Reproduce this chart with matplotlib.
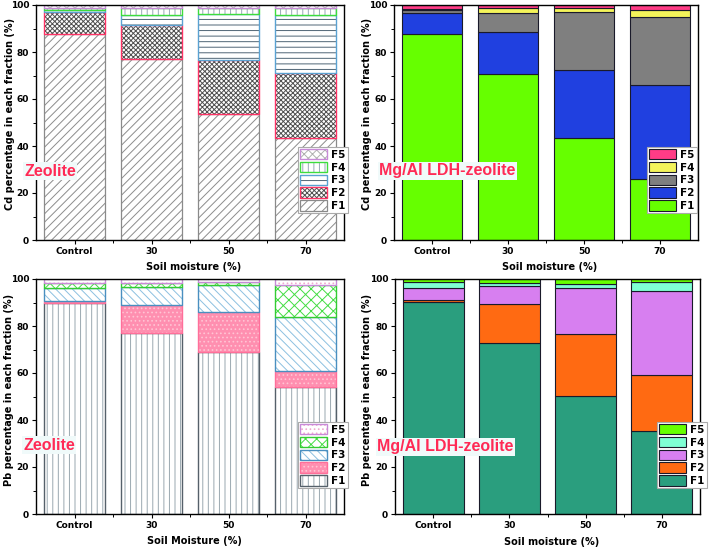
import matplotlib
matplotlib.use('Agg')
import matplotlib.pyplot as plt
from matplotlib.legend_handler import HandlerTuple
import numpy as np

# ---------------- data ----------------
categories = ['Control', '30', '50', '70']
fractions = ['F1', 'F2', 'F3', 'F4', 'F5']

# Cd, Zeolite
cd_zeo_F1 = [87.5, 77.0, 53.5, 43.5]
cd_zeo_F2 = [9.4, 14.5, 23.0, 27.7]
cd_zeo_F3 = [0.9, 4.2, 19.5, 24.5]
cd_zeo_F4 = [0.8, 2.9, 2.6, 2.9]
cd_zeo_F5 = [1.4, 1.4, 1.4, 1.4]

# Cd, Mg/Al LDH-zeolite
cd_ldh_F1 = [87.7, 70.6, 43.3, 25.9]
cd_ldh_F2 = [8.9, 17.9, 29.2, 40.1]
cd_ldh_F3 = [1.1, 8.1, 24.5, 29.0]
cd_ldh_F4 = [0.8, 2.3, 1.6, 2.8]
cd_ldh_F5 = [1.5, 1.1, 1.4, 2.2]

# Pb, Zeolite
pb_zeo_F1 = [89.8, 77.0, 68.9, 54.0]
pb_zeo_F2 = [1.0, 12.1, 17.1, 6.7]
pb_zeo_F3 = [5.2, 7.5, 11.6, 23.0]
pb_zeo_F4 = [2.3, 1.7, 1.1, 13.9]
pb_zeo_F5 = [1.7, 1.7, 1.3, 2.4]

# Pb, Mg/Al LDH-zeolite
pb_ldh_F1 = [90.1, 72.7, 50.2, 35.3]
pb_ldh_F2 = [1.0, 16.5, 26.6, 23.9]
pb_ldh_F3 = [4.9, 7.7, 19.2, 35.8]
pb_ldh_F4 = [2.6, 1.4, 1.9, 3.6]
pb_ldh_F5 = [1.4, 1.7, 2.1, 1.4]

yticks = [0, 20, 40, 60, 80, 100]

# ---------------- styling ----------------
plt.rcParams['font.family'] = ['DejaVu Sans']
plt.rcParams['font.weight'] = 'bold'
plt.rcParams['hatch.linewidth'] = 0.7

W, H = 709, 549
fig = plt.figure(figsize=(W / 100, H / 100), dpi=100)


def fx(px):
    return px / W


def fy(py):
    return 1 - py / H


style_cd_zeo = [
    dict(face='white', hc='#8c8c8c', hatch='////', edge='#8a8a8a', lw=0.9),
    dict(face='white', hc='#505050', hatch='xxxxxxx', edge='#ff3366', lw=1.0),
    dict(face='white', hc='#4f6575', hatch='---', edge='#5aa2d2', lw=1.0),
    dict(face='white', hc='#9aa8b8', hatch='|||', edge='#3ddc3d', lw=1.0),
    dict(face='white', hc='#b0b0b0', hatch='xxxx', edge='#c88ad8', lw=1.0),
]
style_cd_ldh = [
    dict(face='#66ff00', hc=None, hatch=None, edge='#1a1a2a', lw=0.8),
    dict(face='#2040e0', hc=None, hatch=None, edge='#1a1a2a', lw=0.8),
    dict(face='#7f7f7f', hc=None, hatch=None, edge='#1a1a2a', lw=0.8),
    dict(face='#f4f45a', hc=None, hatch=None, edge='#1a1a2a', lw=0.8),
    dict(face='#ff3c86', hc=None, hatch=None, edge='#1a1a2a', lw=0.8),
]
style_pb_zeo = [
    dict(face='white', hc='#9aa8b0', hatch='|||', edge='#55606a', lw=1.0),
    dict(face='#ff8fb0', hc='#ffc4d4', hatch='....', edge='#ff6f9a', lw=1.0),
    dict(face='white', hc='#8cc0e0', hatch='\\\\\\\\', edge='#4a8fc0', lw=1.0),
    dict(face='white', hc='#44dd44', hatch='xxx', edge='#33cc33', lw=1.0),
    dict(face='white', hc='#f0a8d0', hatch='....', edge='#c88ad8', lw=1.0),
]
style_pb_ldh = [
    dict(face='#2a9e7e', hc=None, hatch=None, edge='#1a1a2a', lw=0.8),
    dict(face='#ff6a12', hc=None, hatch=None, edge='#1a1a2a', lw=0.8),
    dict(face='#d77ff0', hc=None, hatch=None, edge='#1a1a2a', lw=0.8),
    dict(face='#7fffd4', hc=None, hatch=None, edge='#1a1a2a', lw=0.8),
    dict(face='#66ff00', hc=None, hatch=None, edge='#1a1a2a', lw=0.8),
]


def draw_panel(rect_px, series, styles, ylabel, xlabel, tag, tag_px,
               ylab_px, xlab_py, leg_px):
    l, r, t, b = rect_px
    ax = fig.add_axes([fx(l), fy(b), fx(r) - fx(l), fy(t) - fy(b)])
    x = np.arange(len(categories))
    bottom = np.zeros(len(categories))
    handles = []
    for vals, st in zip(series, styles):
        vals = np.asarray(vals, dtype=float)
        if st['hatch']:
            b1 = ax.bar(x, vals, 0.8, bottom=bottom, color=st['face'],
                        edgecolor=st['hc'], hatch=st['hatch'], linewidth=0)
        else:
            b1 = ax.bar(x, vals, 0.8, bottom=bottom, color=st['face'],
                        linewidth=0)
        b2 = ax.bar(x, vals, 0.8, bottom=bottom, fill=False,
                    edgecolor=st['edge'], linewidth=st['lw'])
        handles.append((b1.patches[0], b2.patches[0]))
        bottom += vals

    ax.set_xlim(-0.5, 3.5)
    ax.set_ylim(0, 100)
    ax.set_xticks(x)
    ax.set_xticklabels(categories)
    ax.set_xticks([0.5, 1.5, 2.5], minor=True)
    ax.set_yticks(yticks)
    ax.set_yticks([10, 30, 50, 70, 90], minor=True)
    ax.tick_params(axis='both', which='major', direction='out', length=3,
                   width=0.8, labelsize=6.5, pad=2)
    ax.tick_params(axis='both', which='minor', direction='out', length=2,
                   width=0.7)
    ax.tick_params(top=False, right=False, which='both')
    for s in ax.spines.values():
        s.set_linewidth(1.0)
        s.set_color('black')

    ax.set_ylabel(ylabel, fontsize=7, fontweight='bold')
    ax.set_xlabel(xlabel, fontsize=7, fontweight='bold')
    ax.yaxis.label.set_va('center')
    ax.xaxis.label.set_va('center')
    ax.yaxis.set_label_coords(fx(ylab_px[0]), fy(ylab_px[1]),
                              transform=fig.transFigure)
    ax.xaxis.set_label_coords(fx((l + r) / 2 + 4), fy(xlab_py),
                              transform=fig.transFigure)

    fig.text(fx(tag_px[0]), fy(tag_px[1]), tag, color='#ff2a55',
             fontsize=11.5, fontweight='bold', family='Liberation Sans',
             ha='left', va='center', zorder=10,
             bbox=dict(facecolor='#f0fafa', edgecolor='none', pad=1.0))

    leg = ax.legend(handles[::-1], fractions[::-1],
                    handler_map={tuple: HandlerTuple(ndivide=1, pad=0)},
                    loc='lower right',
                    bbox_to_anchor=(fx(leg_px[0]), fy(leg_px[1])),
                    bbox_transform=fig.transFigure,
                    prop=dict(size=7.5, weight='bold'),
                    frameon=True, fancybox=False, framealpha=1,
                    edgecolor='#aaaaaa', handlelength=2.6, handleheight=1.15,
                    labelspacing=0.2, handletextpad=0.4, borderpad=0.2,
                    borderaxespad=0)
    leg.get_frame().set_linewidth(0.8)
    leg.set_zorder(20)
    return ax


draw_panel((36, 344, 5, 240),
           [cd_zeo_F1, cd_zeo_F2, cd_zeo_F3, cd_zeo_F4, cd_zeo_F5],
           style_cd_zeo, 'Cd percentage in each fraction (%)',
           'Soil moisture (%)', 'Zeolite', (24, 171), (10, 114), 267,
           (348, 213))
draw_panel((394, 698, 5, 240),
           [cd_ldh_F1, cd_ldh_F2, cd_ldh_F3, cd_ldh_F4, cd_ldh_F5],
           style_cd_ldh, 'Cd percentage in each fraction (%)',
           'Soil moisture (%)', 'Mg/Al LDH-zeolite', (379, 171), (367, 114),
           267, (697, 213))
draw_panel((36, 344, 279, 514),
           [pb_zeo_F1, pb_zeo_F2, pb_zeo_F3, pb_zeo_F4, pb_zeo_F5],
           style_pb_zeo, 'Pb percentage in each fraction (%)',
           'Soil Moisture (%)', 'Zeolite', (23, 445), (9, 390), 541,
           (348, 488))
draw_panel((395, 700, 279, 514),
           [pb_ldh_F1, pb_ldh_F2, pb_ldh_F3, pb_ldh_F4, pb_ldh_F5],
           style_pb_ldh, 'Pb percentage in each fraction (%)',
           'Soil moisture (%)', 'Mg/Al LDH-zeolite', (377, 447), (367, 390),
           542, (707, 488))

fig.savefig('out.png', dpi=100, facecolor='white')
